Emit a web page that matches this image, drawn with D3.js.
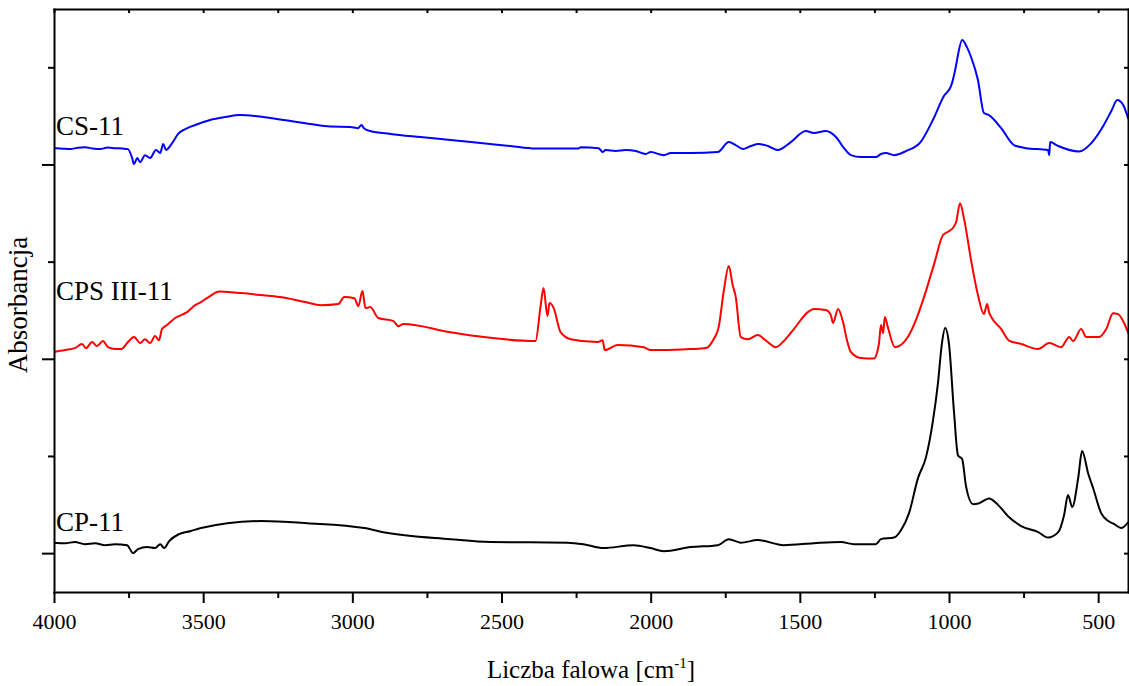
<!DOCTYPE html>
<html>
<head>
<meta charset="utf-8">
<script src="https://cdn.jsdelivr.net/npm/d3@7"></script>
<style>
  body { margin: 0; background: #fff; }
  svg { display: block; font-family: "Liberation Serif", "Times New Roman", serif; }
</style>
</head>
<body>
<svg></svg>
<script>
// wavenumber [cm-1], absorbance (offset stacked)
const cs11 = [[4000,2.084],[3970,2.081],[3946,2.079],[3920,2.086],[3896,2.089],[3870,2.082],[3846,2.079],[3820,2.087],[3795,2.084],[3770,2.082],[3752,2.079],[3738,2.033],[3732,2.002],[3721,2.033],[3711,2.012],[3695,2.048],[3678,2.033],[3658,2.074],[3644,2.059],[3634,2.105],[3624,2.074],[3611,2.095],[3597,2.126],[3584,2.157],[3560,2.182],[3527,2.203],[3477,2.229],[3426,2.244],[3376,2.254],[3326,2.249],[3275,2.239],[3208,2.224],[3141,2.208],[3074,2.195],[3007,2.193],[2980,2.187],[2970,2.203],[2960,2.185],[2940,2.172],[2872,2.157],[2772,2.141],[2671,2.126],[2570,2.110],[2470,2.095],[2386,2.082],[2242,2.082],[2235,2.089],[2174,2.084],[2161,2.064],[2151,2.074],[2117,2.069],[2084,2.074],[2050,2.069],[2017,2.054],[2000,2.064],[1956,2.048],[1933,2.059],[1866,2.059],[1775,2.064],[1738,2.115],[1715,2.100],[1691,2.079],[1664,2.095],[1638,2.105],[1607,2.095],[1574,2.074],[1530,2.115],[1480,2.172],[1453,2.162],[1413,2.172],[1379,2.141],[1352,2.084],[1329,2.048],[1295,2.038],[1245,2.038],[1228,2.054],[1211,2.059],[1184,2.048],[1144,2.069],[1094,2.118],[1054,2.229],[1017,2.352],[993,2.404],[976,2.512],[970,2.563],[956,2.640],[940,2.604],[926,2.553],[903,2.435],[883,2.265],[866,2.254],[825,2.187],[782,2.100],[742,2.084],[668,2.074],[664,2.048],[661,2.115],[634,2.095],[564,2.067],[523,2.110],[483,2.198],[456,2.275],[436,2.332],[423,2.321],[416,2.306],[399,2.234]];

const cps3_11 = [[4000,1.035],[3963,1.045],[3930,1.055],[3906,1.076],[3893,1.055],[3872,1.086],[3856,1.066],[3836,1.091],[3819,1.060],[3795,1.050],[3775,1.050],[3752,1.086],[3732,1.112],[3711,1.081],[3695,1.101],[3678,1.081],[3661,1.117],[3648,1.096],[3638,1.153],[3621,1.174],[3594,1.210],[3554,1.240],[3527,1.276],[3507,1.292],[3477,1.323],[3446,1.346],[3409,1.343],[3372,1.338],[3309,1.328],[3218,1.312],[3158,1.292],[3104,1.276],[3047,1.282],[3027,1.318],[2993,1.312],[2980,1.271],[2966,1.349],[2956,1.261],[2940,1.266],[2913,1.210],[2862,1.194],[2846,1.168],[2829,1.179],[2671,1.137],[2560,1.112],[2386,1.091],[2369,1.271],[2359,1.364],[2346,1.220],[2339,1.287],[2325,1.261],[2302,1.137],[2268,1.101],[2178,1.086],[2161,1.096],[2154,1.045],[2111,1.071],[2023,1.060],[2000,1.045],[1956,1.045],[1866,1.050],[1815,1.055],[1789,1.101],[1772,1.163],[1755,1.349],[1738,1.477],[1725,1.379],[1715,1.320],[1698,1.112],[1674,1.101],[1641,1.122],[1614,1.094],[1580,1.060],[1557,1.086],[1520,1.153],[1473,1.240],[1453,1.256],[1413,1.251],[1396,1.225],[1389,1.184],[1372,1.256],[1356,1.194],[1342,1.096],[1329,1.035],[1295,1.004],[1252,1.001],[1235,1.076],[1228,1.174],[1221,1.132],[1215,1.215],[1205,1.163],[1181,1.060],[1138,1.112],[1111,1.199],[1087,1.302],[1050,1.487],[1020,1.637],[1002,1.655],[987,1.673],[976,1.704],[963,1.801],[950,1.724],[926,1.508],[903,1.328],[883,1.230],[872,1.282],[866,1.240],[825,1.153],[799,1.094],[758,1.076],[701,1.050],[664,1.081],[624,1.060],[597,1.112],[584,1.091],[557,1.153],[540,1.112],[497,1.112],[473,1.153],[450,1.235],[433,1.230],[413,1.184],[399,1.132]];

const cp11 = [[4000,0.054],[3963,0.051],[3930,0.057],[3896,0.046],[3862,0.051],[3829,0.041],[3795,0.046],[3755,0.041],[3735,0.000],[3718,0.021],[3688,0.031],[3661,0.026],[3644,0.046],[3631,0.026],[3614,0.062],[3581,0.098],[3544,0.113],[3507,0.129],[3419,0.154],[3305,0.165],[3151,0.154],[2960,0.129],[2896,0.108],[2671,0.072],[2537,0.057],[2278,0.054],[2225,0.046],[2158,0.026],[2057,0.041],[2000,0.026],[1956,0.010],[1866,0.031],[1775,0.041],[1738,0.072],[1698,0.054],[1641,0.067],[1554,0.041],[1453,0.051],[1362,0.057],[1319,0.046],[1245,0.046],[1228,0.072],[1184,0.080],[1161,0.118],[1134,0.206],[1104,0.386],[1077,0.494],[1054,0.679],[1037,0.875],[1024,1.076],[1013,1.158],[1000,1.076],[983,0.721],[970,0.504],[956,0.484],[943,0.345],[919,0.252],[899,0.257],[866,0.281],[835,0.247],[802,0.190],[758,0.139],[701,0.108],[668,0.080],[634,0.108],[614,0.198],[601,0.299],[587,0.237],[567,0.386],[554,0.525],[533,0.407],[517,0.335],[490,0.206],[466,0.165],[446,0.149],[423,0.129],[399,0.160]];

const seriesNames = ['CS-11', 'CPS III-11', 'CP-11'];
const seriesColors = ['#0000ff', '#ff0000', '#000000'];
const xMajorTicks = [4000, 3500, 3000, 2500, 2000, 1500, 1000, 500];
const xMinorTicks = [3750, 3250, 2750, 2250, 1750, 1250, 750];
const yMajorTicks = [0, 1, 2];
const yMinorTicks = [0.5, 1.5, 2.5];

const svg = d3.select('svg').attr('width', 1129).attr('height', 686);

const LEFT = 54, RIGHT = 1128, TOP = 9, BOTTOM = 592;

const x = d3.scaleLinear().domain([4000, 400]).range([LEFT, RIGHT]);
const y = d3.scaleLinear().domain([-0.2, 2.8]).range([BOTTOM, TOP]);

// curves
const line = d3.line().x(d => x(d[0])).y(d => y(d[1])).curve(d3.curveMonotoneX);
const allSeries = [cs11, cps3_11, cp11];
svg.append('g').selectAll('path')
  .data(allSeries)
  .join('path')
  .attr('d', line)
  .attr('fill', 'none')
  .attr('stroke', (d, i) => seriesColors[i])
  .attr('stroke-width', 2)
  .attr('stroke-linejoin', 'round');

// axes
function styleAxis(g) {
  g.selectAll('path.domain').attr('stroke', '#000').attr('stroke-width', 2).attr('stroke-linecap', 'square');
  g.selectAll('.tick line').attr('stroke', '#000').attr('stroke-width', 2);
}

const xBottom = svg.append('g').attr('transform', `translate(0,${BOTTOM})`)
  .call(d3.axisBottom(x).tickValues(xMajorTicks).tickSize(11).tickSizeOuter(0).tickFormat(d3.format('d')));
xBottom.selectAll('text').attr('y', 37).attr('dy', null)
  .attr('font-size', 22).attr('font-family', '"Liberation Serif", "Times New Roman", serif').attr('fill', '#000');
styleAxis(xBottom);

const xBottomMinor = svg.append('g').attr('transform', `translate(0,${BOTTOM})`)
  .call(d3.axisBottom(x).tickValues(xMinorTicks).tickSize(6).tickFormat(''));
xBottomMinor.select('.domain').remove();
styleAxis(xBottomMinor);

const xTop = svg.append('g').attr('transform', `translate(0,${TOP})`)
  .call(d3.axisTop(x).tickValues(xMajorTicks.concat(xMinorTicks)).tickSizeInner(-4).tickSizeOuter(0).tickFormat(''));
styleAxis(xTop);

const yLeft = svg.append('g').attr('transform', `translate(${LEFT},0)`)
  .call(d3.axisLeft(y).tickValues(yMajorTicks).tickSize(12).tickSizeOuter(0).tickFormat(''));
styleAxis(yLeft);

const yLeftMinor = svg.append('g').attr('transform', `translate(${LEFT},0)`)
  .call(d3.axisLeft(y).tickValues(yMinorTicks).tickSize(6).tickFormat(''));
yLeftMinor.select('.domain').remove();
styleAxis(yLeftMinor);

const yRight = svg.append('g').attr('transform', `translate(${RIGHT},0)`)
  .call(d3.axisRight(y).tickValues(yMajorTicks.concat(yMinorTicks)).tickSizeInner(-4).tickSizeOuter(0).tickFormat(''));
styleAxis(yRight);

// axis titles
const xTitle = svg.append('text')
  .attr('x', (LEFT + RIGHT) / 2).attr('y', 678)
  .attr('text-anchor', 'middle').attr('font-size', 25).attr('fill', '#000');
xTitle.append('tspan').text('Liczba falowa [cm');
xTitle.append('tspan').attr('font-size', 15).attr('dy', -10).text('-1');
xTitle.append('tspan').attr('dy', 10).text(']');

svg.append('text')
  .attr('transform', 'translate(27,305) rotate(-90)')
  .attr('text-anchor', 'middle').attr('font-size', 27).attr('fill', '#000')
  .text('Absorbancja');

// series labels
const labelY = [135, 300, 531];
svg.append('g').selectAll('text')
  .data(seriesNames)
  .join('text')
  .attr('x', 56)
  .attr('y', (d, i) => labelY[i])
  .attr('font-size', 27)
  .attr('fill', '#000')
  .text(d => d);
</script>
</body>
</html>
